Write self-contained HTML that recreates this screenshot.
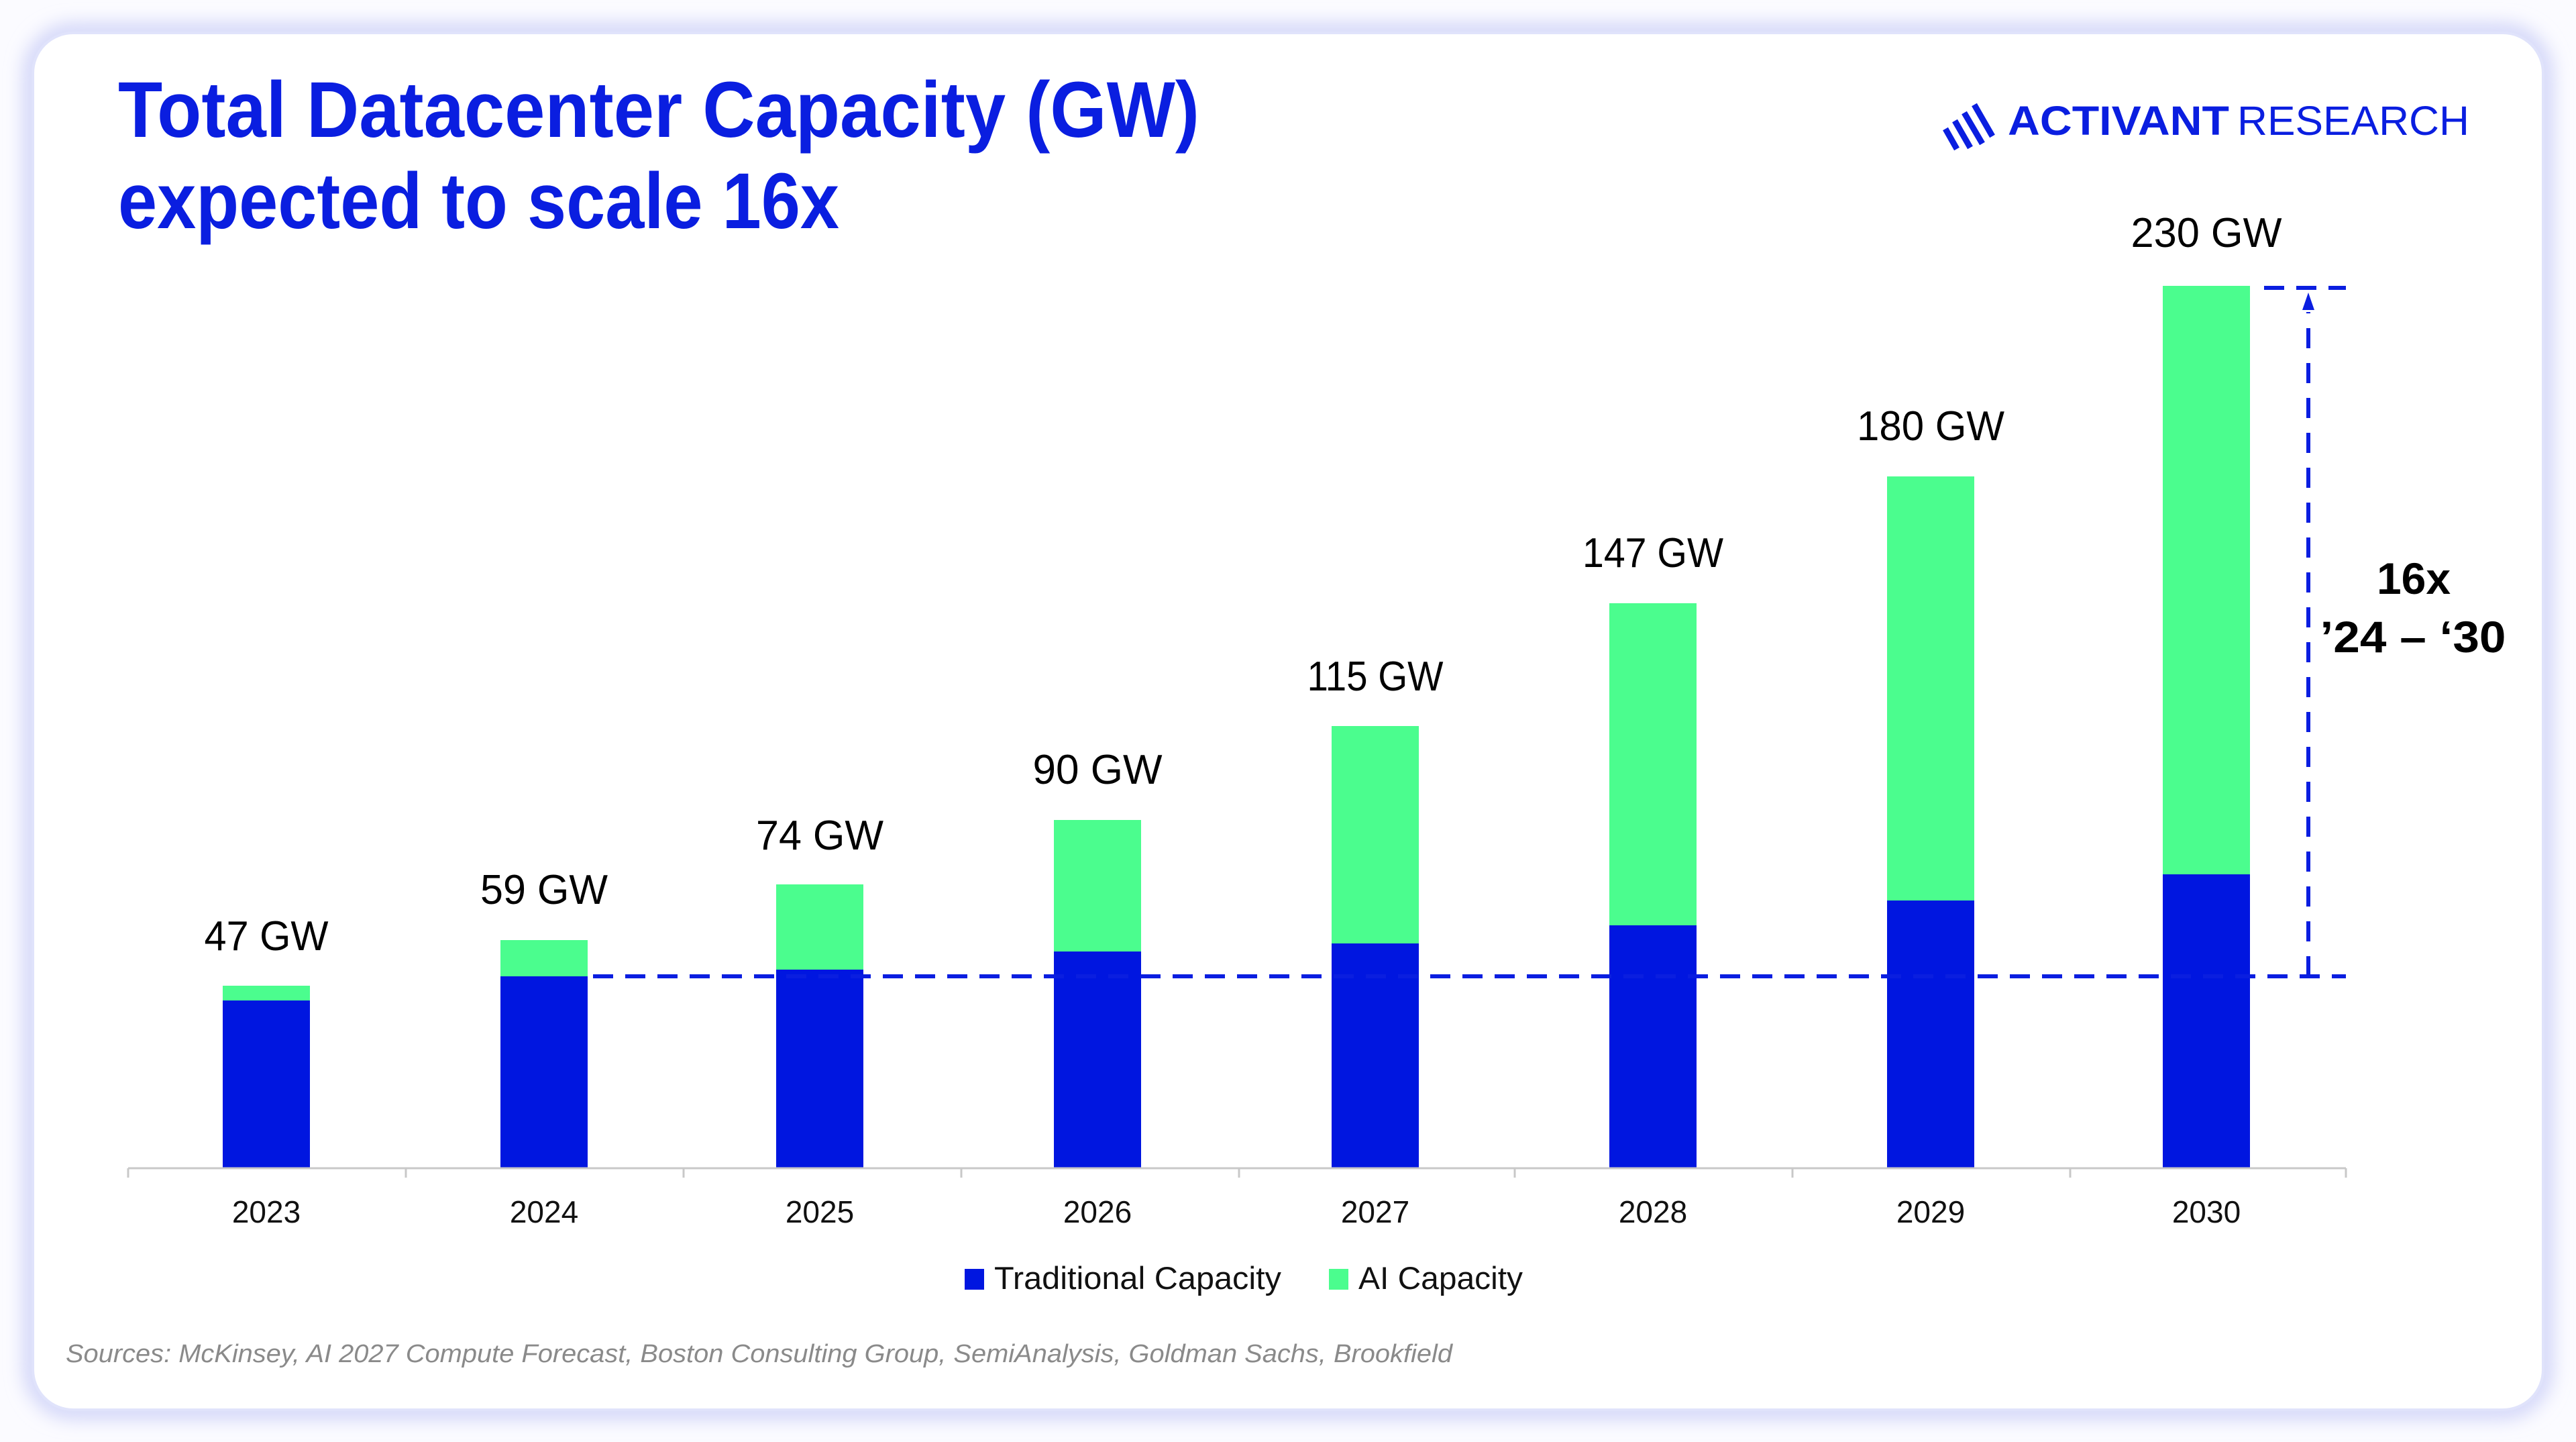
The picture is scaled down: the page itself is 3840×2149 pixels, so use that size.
<!DOCTYPE html>
<html><head><meta charset="utf-8"><style>
html,body{margin:0;padding:0;background:#fff;}
svg{display:block;}
</style></head><body>
<svg width="3840" height="2149" viewBox="0 0 3840 2149" xmlns="http://www.w3.org/2000/svg" font-family="'Liberation Sans', sans-serif">
<defs>
<filter id="glow" x="-5%" y="-5%" width="110%" height="110%"><feGaussianBlur stdDeviation="14"/></filter>
</defs>
<rect width="3840" height="2149" fill="#fbfbff"/>
<rect x="49" y="49" width="3742" height="2052" rx="60" fill="none" stroke="#c9cdf7" stroke-width="24" filter="url(#glow)"/>
<rect x="49" y="49" width="3742" height="2052" rx="60" fill="#fff" stroke="#e0e3fb" stroke-width="4"/>

<g fill="#0a1ee0" font-weight="bold" font-size="118">
<text x="176" y="204" textLength="1612" lengthAdjust="spacingAndGlyphs">Total Datacenter Capacity (GW)</text>
<text x="176" y="340" textLength="1075" lengthAdjust="spacingAndGlyphs">expected to scale 16x</text>
</g>

<!-- logo -->
<g stroke="#0a1ee0" stroke-width="9" fill="none">
<line x1="2900" y1="192" x2="2917" y2="222"/>
<line x1="2914" y1="180" x2="2937" y2="220"/>
<line x1="2928" y1="168" x2="2955" y2="214"/>
<line x1="2943" y1="156" x2="2970" y2="203"/>
</g>
<text x="2993" y="201" font-size="61" fill="#0a1ee0" font-weight="bold" textLength="330" lengthAdjust="spacingAndGlyphs">ACTIVANT</text>
<text x="3335" y="201" font-size="61" fill="#0a1ee0" textLength="346" lengthAdjust="spacingAndGlyphs">RESEARCH</text>

<!-- bars -->
<g>
<rect x="332" y="1469" width="130" height="272" fill="#4bfd8e"/><rect x="332" y="1491" width="130" height="250" fill="#0016e0"/>
<rect x="746" y="1401" width="130" height="340" fill="#4bfd8e"/><rect x="746" y="1455" width="130" height="286" fill="#0016e0"/>
<rect x="1157" y="1318" width="130" height="423" fill="#4bfd8e"/><rect x="1157" y="1445" width="130" height="296" fill="#0016e0"/>
<rect x="1571" y="1222" width="130" height="519" fill="#4bfd8e"/><rect x="1571" y="1418" width="130" height="323" fill="#0016e0"/>
<rect x="1985" y="1082" width="130" height="659" fill="#4bfd8e"/><rect x="1985" y="1406" width="130" height="335" fill="#0016e0"/>
<rect x="2399" y="899" width="130" height="842" fill="#4bfd8e"/><rect x="2399" y="1379" width="130" height="362" fill="#0016e0"/>
<rect x="2813" y="710" width="130" height="1031" fill="#4bfd8e"/><rect x="2813" y="1342" width="130" height="399" fill="#0016e0"/>
<rect x="3224" y="426" width="130" height="1315" fill="#4bfd8e"/><rect x="3224" y="1303" width="130" height="438" fill="#0016e0"/>
</g>

<!-- axis -->
<g stroke="#c8c8c8" stroke-width="3">
<line x1="191" y1="1741" x2="3497" y2="1741"/>
<line x1="191" y1="1741" x2="191" y2="1755"/><line x1="605" y1="1741" x2="605" y2="1755"/>
<line x1="1019" y1="1741" x2="1019" y2="1755"/><line x1="1433" y1="1741" x2="1433" y2="1755"/>
<line x1="1847" y1="1741" x2="1847" y2="1755"/><line x1="2258" y1="1741" x2="2258" y2="1755"/>
<line x1="2672" y1="1741" x2="2672" y2="1755"/><line x1="3086" y1="1741" x2="3086" y2="1755"/>
<line x1="3497" y1="1741" x2="3497" y2="1755"/>
</g>
<g font-size="46" fill="#111" text-anchor="middle">
<text x="397" y="1822">2023</text><text x="811" y="1822">2024</text><text x="1222" y="1822">2025</text>
<text x="1636" y="1822">2026</text><text x="2050" y="1822">2027</text><text x="2464" y="1822">2028</text>
<text x="2878" y="1822">2029</text><text x="3289" y="1822">2030</text>
</g>

<!-- value labels -->
<g font-size="62" fill="#000" text-anchor="middle">
<text x="397" y="1416" textLength="185" lengthAdjust="spacingAndGlyphs">47 GW</text>
<text x="811" y="1347" textLength="190" lengthAdjust="spacingAndGlyphs">59 GW</text>
<text x="1222" y="1266" textLength="190" lengthAdjust="spacingAndGlyphs">74 GW</text>
<text x="1636" y="1168" textLength="193" lengthAdjust="spacingAndGlyphs">90 GW</text>
<text x="2050" y="1029" textLength="203" lengthAdjust="spacingAndGlyphs">115 GW</text>
<text x="2464" y="845" textLength="210" lengthAdjust="spacingAndGlyphs">147 GW</text>
<text x="2878" y="656" textLength="220" lengthAdjust="spacingAndGlyphs">180 GW</text>
<text x="3289" y="368" textLength="225" lengthAdjust="spacingAndGlyphs">230 GW</text>
</g>

<!-- dashed lines -->
<g stroke="#0a1ee0" stroke-width="6" stroke-dasharray="30 18" fill="none">
<line x1="884" y1="1455" x2="3497" y2="1455"/>
<line x1="3375" y1="429" x2="3497" y2="429"/>
<line x1="3441" y1="1455" x2="3441" y2="465" stroke-dasharray="30 22"/>
</g>
<polygon points="3441,436 3432,462 3450,462" fill="#0a1ee0"/>
<text x="3598" y="885" font-size="66" font-weight="bold" text-anchor="middle" fill="#000">16x</text>
<text x="3597" y="972" font-size="66" font-weight="bold" text-anchor="middle" fill="#000" textLength="277" lengthAdjust="spacingAndGlyphs">’24 – ‘30</text>

<!-- legend -->
<rect x="1438" y="1891" width="29" height="31" fill="#0016e0"/>
<text x="1482" y="1921" font-size="47" fill="#111" textLength="428" lengthAdjust="spacingAndGlyphs">Traditional Capacity</text>
<rect x="1981" y="1891" width="29" height="31" fill="#4bfd8e"/>
<text x="2025" y="1921" font-size="47" fill="#111" textLength="245" lengthAdjust="spacingAndGlyphs">AI Capacity</text>

<text x="98" y="2030" font-size="38" font-style="italic" fill="#8a8a8a" textLength="2067" lengthAdjust="spacingAndGlyphs">Sources: McKinsey, AI 2027 Compute Forecast, Boston Consulting Group, SemiAnalysis, Goldman Sachs, Brookfield</text>
</svg>
</body></html>
